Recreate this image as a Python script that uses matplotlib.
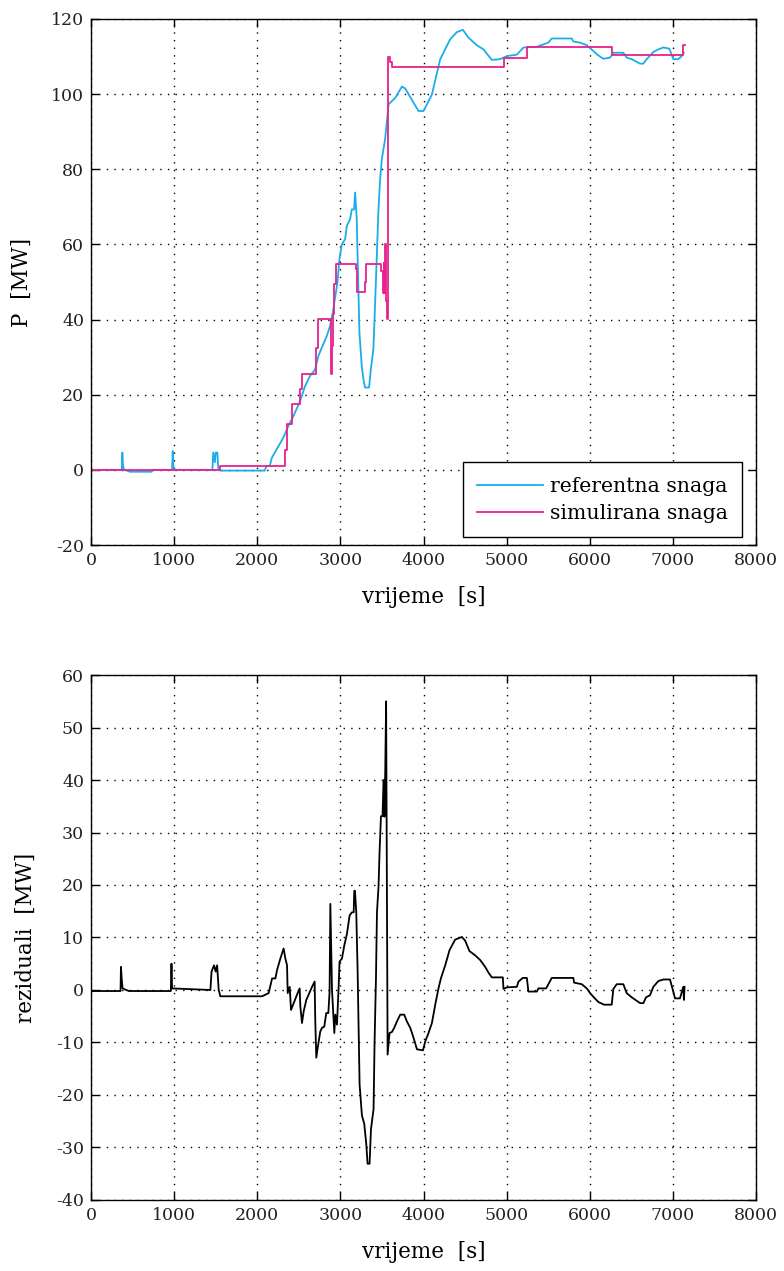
import numpy as np
import matplotlib
matplotlib.use("Agg")
import matplotlib.pyplot as plt

plt.rcParams['axes.unicode_minus'] = False

# referentna snaga
t_ref = [0, 370, 377, 385, 400, 470, 730, 740, 975, 983, 990, 1000, 1460, 1470, 1490, 1500,
         1520, 1530, 1550, 2090, 2110, 2150, 2175, 2234, 2314, 2375, 2435, 2515, 2575, 2635,
         2695, 2735, 2776, 2836, 2876, 2908, 2936, 2964, 2988, 3017, 3057, 3077, 3117, 3137,
         3165, 3177, 3197, 3205, 3229, 3257, 3277, 3297, 3345, 3366, 3397, 3418, 3438, 3458,
         3478, 3498, 3518, 3538, 3580, 3660, 3740, 3780, 3880, 3940, 4000, 4101, 4201, 4321,
         4401, 4474, 4541, 4642, 4721, 4822, 4922, 5002, 5123, 5202, 5363, 5502, 5543, 5784,
         5803, 5883, 5964, 6043, 6084, 6163, 6244, 6284, 6404, 6445, 6505, 6605, 6644, 6685,
         6765, 6825, 6885, 6957, 7005, 7065, 7106, 7130]
p_ref = [0, 0, 4.6, 1.0, 0, -0.5, -0.5, 0, 0, 5.0, 1.0, 0, 0, 4.6, 2.0, 4.6,
         4.6, 0.5, -0.2, -0.2, 1.0, 1.0, 3.2, 5.5, 8.6, 11.7, 14.3, 18.3, 22.3, 25.0,
         26.7, 30.3, 32.5, 35.6, 38.3, 41.8, 45.8, 49.8, 56.0, 60.0, 61.4, 64.9, 66.7, 69.3,
         69.3, 73.8, 66.7, 58.7, 36.5, 27.6, 24.1, 21.9, 21.9, 26.7, 32.1, 44.5, 56.9, 69.3,
         77.3, 82.6, 85.3, 88.0, 97.3, 99.0, 102.0, 101.5, 97.7, 95.5, 95.5, 99.9, 109.3, 114.6,
         116.5, 117.1, 115.0, 113.0, 111.9, 109.1, 109.3, 110.1, 110.5, 112.4, 112.6, 113.7, 114.8, 114.8,
         114.0, 113.7, 113.0, 111.5, 110.6, 109.4, 109.7, 111.0, 111.0, 109.7, 109.3, 108.1, 108.1, 109.3,
         111.2, 111.9, 112.4, 112.1, 109.3, 109.3, 110.1, 111.0]

# simulirana snaga (stepwise)
t_sim = [0, 1550, 2335, 2360, 2415, 2515, 2535, 2708, 2725, 2890, 2900, 2910, 2925, 2950,
         3190, 3205, 3300, 3310, 3486, 3510, 3520, 3530, 3540, 3550, 3560, 3570, 3600, 3618,
         4970, 5243, 6273, 7120, 7150]
p_sim = [0, 1.0, 5.3, 12.1, 17.4, 21.4, 25.6, 32.5, 40.2, 25.4, 33.0, 41.4, 49.4, 54.7,
         53.5, 47.3, 50.0, 54.7, 53.0, 47.0, 55.0, 47.0, 60.0, 45.0, 40.1, 110.0, 108.5, 107.1,
         109.7, 112.6, 110.4, 113.0, 113.0]

# reziduali (bottom plot)
t_res = [0, 355, 360, 370, 380, 455, 960, 968, 975, 1436, 1450, 1480, 1500, 1517, 1536, 1556,
         2058, 2137, 2178, 2218, 2238, 2278, 2317, 2338, 2358, 2366, 2390, 2406, 2438, 2478,
         2510, 2518, 2538, 2558, 2590, 2618, 2659, 2690, 2698, 2710, 2730, 2758, 2779, 2806,
         2830, 2855, 2870, 2879, 2887, 2899, 2911, 2927, 2939, 2959, 2978, 2990, 3019, 3047,
         3079, 3111, 3139, 3160, 3167, 3175, 3191, 3207, 3231, 3259, 3287, 3311, 3327, 3351,
         3368, 3399, 3411, 3428, 3440, 3459, 3471, 3488, 3507, 3519, 3530, 3540, 3550, 3558,
         3568, 3591, 3620, 3648, 3680, 3720, 3768, 3800, 3840, 3880, 3921, 3993, 4021, 4060,
         4101, 4141, 4180, 4209, 4261, 4313, 4381, 4461, 4501, 4553, 4621, 4682, 4742, 4782,
         4822, 4954, 4962, 5002, 5123, 5142, 5195, 5243, 5262, 5363, 5383, 5475, 5543, 5803,
         5811, 5904, 5964, 6004, 6043, 6104, 6172, 6264, 6284, 6324, 6404, 6444, 6505, 6605,
         6645, 6677, 6725, 6765, 6825, 6885, 6965, 7005, 7025, 7085, 7125, 7133, 7140]
r_res = [-0.2, -0.2, 4.4, 1.9, 0.3, -0.2, -0.2, 5.0, 0.3, 0, 3.5, 4.7, 3.5, 4.7, 0, -1.2,
         -1.2, -0.6, 2.2, 2.2, 3.8, 6.0, 7.9, 6.0, 4.7, -0.6, 0.6, -3.8, -2.5, -0.9,
         0.3, -3.1, -6.3, -4.1, -1.9, -0.9, 0.6, 1.6, -6.0, -12.9, -10.7, -7.9, -7.2, -7.0,
         -4.4, -4.4, -0.3, 16.4, 9.8, 0, -3.5, -8.2, -4.7, -6.6, 0.3, 5.4, 6.0, 8.5,
         10.7, 14.2, 14.8, 14.8, 18.9, 18.9, 14.8, 3.8, -18.0, -23.9, -25.5, -29.3, -33.1, -33.1,
         -26.5, -22.7, -10.1, 2.2, 14.8, 19.8, 26.2, 33.1, 33.1, 40.0, 33.0, 42.2, 55.0, 25.5,
         -12.3, -8.2, -8.0, -7.2, -6.0, -4.7, -4.7, -6.0, -7.2, -9.1, -11.3, -11.5, -9.8, -8.2,
         -6.3, -2.8, 0.3, 2.2, 4.7, 7.6, 9.6, 10.1, 9.4, 7.4, 6.6, 5.7, 4.4, 3.3,
         2.4, 2.4, 0.2, 0.5, 0.6, 1.6, 2.3, 2.3, -0.3, -0.3, 0.3, 0.3, 2.3, 2.3,
         1.4, 1.1, 0.3, -0.6, -1.3, -2.3, -2.8, -2.8, 0.2, 1.1, 1.1, -0.6, -1.4, -2.5,
         -2.5, -1.4, -1.0, 0.6, 1.7, 2.0, 2.0, -0.3, -1.6, -1.6, 0.6, -1.9, 0.6]

blue = '#1aaee8'
pink = '#e8228c'
serif = 'DejaVu Serif'


def style_axes(ax, ylim, yticks):
    ax.set_xlim(0, 8000)
    ax.set_ylim(*ylim)
    ax.set_xticks(np.arange(0, 8001, 1000))
    ax.set_yticks(yticks)
    ax.grid(True, color='black', linestyle=(0, (1, 4.5)), linewidth=1.0)
    ax.tick_params(direction='in', top=True, right=True, length=6, width=1,
                   labelsize=12.5, pad=5)
    for lab in ax.get_xticklabels() + ax.get_yticklabels():
        lab.set_fontfamily(serif)
        lab.set_color('#222222')
    for sp in ax.spines.values():
        sp.set_linewidth(1.0)
    ax.set_xlabel('vrijeme  [s]', fontfamily=serif, fontsize=15.5)
    ax.xaxis.set_label_coords(0.5, -0.078)


fig = plt.figure(figsize=(7.84, 12.71), dpi=100)
ax1 = fig.add_axes([0.1161, 0.5712, 0.8482, 0.4139])
ax2 = fig.add_axes([0.1161, 0.0559, 0.8482, 0.4130])

ax1.plot(t_ref, p_ref, color=blue, linewidth=1.3, label='referentna snaga')
ax1.plot(t_sim, p_sim, color=pink, linewidth=1.3, drawstyle='steps-post', label='simulirana snaga')
style_axes(ax1, (-20, 120), np.arange(-20, 121, 20))
ax1.set_ylabel('P  [MW]', fontfamily=serif, fontsize=15.5)
ax1.yaxis.set_label_coords(-0.087, 0.5)
leg = ax1.legend(loc='lower right', bbox_to_anchor=(0.979, 0.015), borderaxespad=0,
                 fancybox=False, framealpha=1, edgecolor='black', handlelength=3.2,
                 prop={'family': serif, 'size': 14.7}, borderpad=0.7, labelspacing=0.4,
                 handletextpad=0.35)
leg.get_frame().set_linewidth(1.0)

ax2.plot(t_res, r_res, color='black', linewidth=1.3)
style_axes(ax2, (-40, 60), np.arange(-40, 61, 10))
ax2.set_ylabel('reziduali  [MW]', fontfamily=serif, fontsize=15.5)
ax2.yaxis.set_label_coords(-0.081, 0.5)

fig.savefig('out.png', dpi=100)
